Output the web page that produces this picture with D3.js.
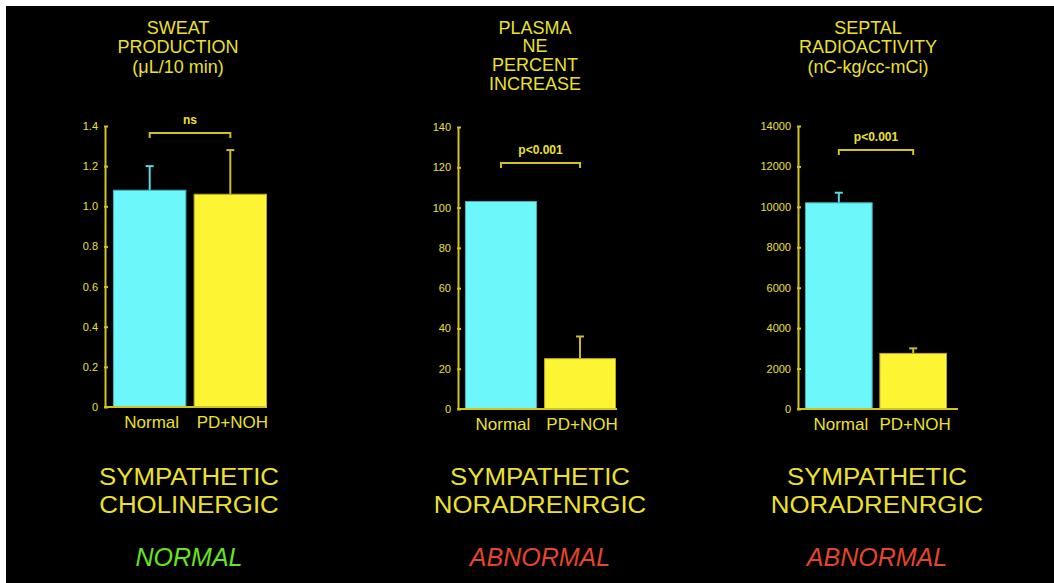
<!DOCTYPE html>
<html><head><meta charset="utf-8">
<script src="https://cdn.jsdelivr.net/npm/d3@7"></script>
<style>
html,body{margin:0;padding:0;background:#fff;}
svg{display:block;}
text{font-family:"Liberation Sans",Arial,Helvetica,sans-serif;}
</style></head>
<body>
<script>
// ---- data ----
const categories = ["Normal", "PD+NOH"];

const sweatValues = [1.08, 1.06];
const sweatErrors = [0.12, 0.22];
const sweatTicks = [0, 0.2, 0.4, 0.6, 0.8, 1.0, 1.2, 1.4];
const sweatTickLabels = ["0", "0.2", "0.4", "0.6", "0.8", "1.0", "1.2", "1.4"];
const sweatTitle = ["SWEAT", "PRODUCTION", "(\u03bcL/10 min)"];
const sweatSig = "ns";

const plasmaValues = [103, 25];
const plasmaErrors = [null, 11];
const plasmaTicks = [0, 20, 40, 60, 80, 100, 120, 140];
const plasmaTickLabels = ["0", "20", "40", "60", "80", "100", "120", "140"];
const plasmaTitle = ["PLASMA", "NE", "PERCENT", "INCREASE"];
const plasmaSig = "p<0.001";

const septalValues = [10200, 2750];
const septalErrors = [500, 250];
const septalTicks = [0, 2000, 4000, 6000, 8000, 10000, 12000, 14000];
const septalTickLabels = ["0", "2000", "4000", "6000", "8000", "10000", "12000", "14000"];
const septalTitle = ["SEPTAL", "RADIOACTIVITY", "(nC-kg/cc-mCi)"];
const septalSig = "p<0.001";

const systemLabels = [["SYMPATHETIC", "CHOLINERGIC"], ["SYMPATHETIC", "NORADRENRGIC"], ["SYMPATHETIC", "NORADRENRGIC"]];
const verdicts = ["NORMAL", "ABNORMAL", "ABNORMAL"];

// ---- layout / styles ----
const W = 1054, H = 583;
const C = {
  text: "#ece02c", axis: "#d2c21e", cyan: "#6cf8fb", cyanEdge: "#3fb4bc", cyanErr: "#5ad8e2",
  yellow: "#fdf434", yellowEdge: "#b9aa1e", yellowErr: "#cbbd26", green: "#66e41c", red: "#e5452a"
};

const panels = [
  {values: sweatValues, errors: sweatErrors, ticks: sweatTicks, labels: sweatTickLabels, title: sweatTitle, sig: sweatSig,
   max: 1.4, axisX: 105, top: 126, base: 407, barL: 113, barR: 267, baseEnd: 267, titleX: 178, bracketY: 133, cx: 189},
  {values: plasmaValues, errors: plasmaErrors, ticks: plasmaTicks, labels: plasmaTickLabels, title: plasmaTitle, sig: plasmaSig,
   max: 140, axisX: 458, top: 127, base: 409, barL: 465, barR: 616, baseEnd: 617, titleX: 535, bracketY: 163, cx: 540},
  {values: septalValues, errors: septalErrors, ticks: septalTicks, labels: septalTickLabels, title: septalTitle, sig: septalSig,
   max: 14000, axisX: 798, top: 126, base: 409, barL: 805, barR: 947, baseEnd: 958, titleX: 868, bracketY: 150, cx: 877}
];

const svg = d3.select("body").append("svg").attr("width", W).attr("height", H);
svg.append("rect").attr("x", 0).attr("y", 0).attr("width", W).attr("height", H).attr("fill", "#fff");
svg.append("rect").attr("x", 6).attr("y", 6).attr("width", W - 6).attr("height", H - 6).attr("fill", "#000");

function widen(sel, k) {
  sel.each(function () {
    const len = this.getComputedTextLength();
    d3.select(this).attr("textLength", len * k).attr("lengthAdjust", "spacingAndGlyphs");
  });
}

panels.forEach((p, pi) => {
  const g = svg.append("g");
  const y = d3.scaleLinear().domain([0, p.max]).range([p.base, p.top]);
  const x = d3.scaleBand().domain(categories).range([p.barL, p.barR]).paddingInner(0.09).paddingOuter(0);

  // title
  const lh = p.title.length > 3 ? 18.7 : 19.5;
  const t = g.append("text").attr("text-anchor", "middle").attr("fill", C.text).attr("font-size", 18);
  p.title.forEach((s, i) => t.append("tspan").attr("x", p.titleX).attr("y", 33.5 + i * lh).text(s));

  // axis
  const ax = d3.axisLeft(y).tickValues(p.ticks).tickFormat((d, i) => p.labels[i])
    .tickSizeInner(-3).tickSizeOuter(0).tickPadding(7);
  const axg = g.append("g").attr("transform", `translate(${p.axisX},0)`).call(ax);
  axg.select(".domain").attr("stroke", C.axis).attr("stroke-width", 2);
  axg.selectAll(".tick line").attr("stroke", C.axis).attr("stroke-width", 2).attr("x1", -1);
  axg.selectAll(".tick text").attr("fill", C.text).attr("font-size", 11).attr("font-family", '"Liberation Sans",Arial,sans-serif');

  // bars
  const cols = [C.cyan, C.yellow], edges = [C.cyanEdge, C.yellowEdge], errc = [C.cyanErr, C.yellowErr];
  categories.forEach((c, i) => {
    const v = p.values[i];
    if (p.errors[i] != null) {
      const cx = x(c) + x.bandwidth() / 2;
      const yt = y(v + p.errors[i]);
      g.append("line").attr("x1", cx).attr("x2", cx).attr("y1", y(v)).attr("y2", yt)
        .attr("stroke", errc[i]).attr("stroke-width", 2);
      g.append("line").attr("x1", cx - 4).attr("x2", cx + 4).attr("y1", yt).attr("y2", yt)
        .attr("stroke", errc[i]).attr("stroke-width", 2);
    }
    g.append("rect").attr("x", x(c) + 0.5).attr("y", y(v)).attr("width", x.bandwidth() - 1).attr("height", y(0) - y(v))
      .attr("fill", cols[i]).attr("stroke", edges[i]).attr("stroke-width", 1);
    g.append("text").attr("x", x(c) + x.bandwidth() / 2 + 2).attr("y", p.base + 21)
      .attr("text-anchor", "middle").attr("fill", C.text).attr("font-size", 17).text(c);
  });

  // baseline
  g.append("line").attr("x1", p.axisX - 1).attr("x2", p.baseEnd).attr("y1", p.base).attr("y2", p.base)
    .attr("stroke", C.axis).attr("stroke-width", 2);

  // significance bracket
  const bx1 = x(categories[0]) + x.bandwidth() / 2, bx2 = x(categories[1]) + x.bandwidth() / 2;
  g.append("path").attr("d", `M${bx1},${p.bracketY + 5}V${p.bracketY}H${bx2}V${p.bracketY + 5}`)
    .attr("fill", "none").attr("stroke", C.axis).attr("stroke-width", 2);
  g.append("text").attr("x", (bx1 + bx2) / 2).attr("y", p.bracketY - 9).attr("text-anchor", "middle")
    .attr("fill", C.text).attr("font-size", 12).attr("font-weight", "bold").text(p.sig);

  // system labels
  const sl = g.selectAll(null).data(systemLabels[pi]).enter().append("text")
    .attr("x", p.cx).attr("y", (d, i) => 485 + i * 28)
    .attr("text-anchor", "middle").attr("fill", C.text).attr("font-size", 23.5).text(d => d);
  widen(sl, 1.1);
  const vt = g.append("text").attr("x", p.cx).attr("y", 566).attr("text-anchor", "middle")
    .attr("fill", pi === 0 ? C.green : C.red).attr("font-size", 25).attr("font-style", "italic").text(verdicts[pi]);
  widen(vt, 1.0);
});
</script>
</body></html>
